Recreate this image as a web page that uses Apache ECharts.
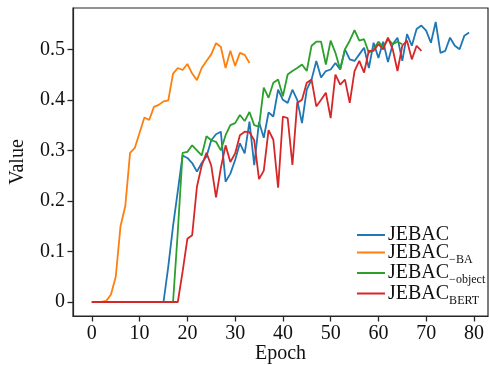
<!DOCTYPE html>
<html>
<head>
<meta charset="utf-8">
<script src="https://cdn.jsdelivr.net/npm/echarts@6/dist/echarts.min.js"></script>
<style>
  html, body { margin: 0; padding: 0; background: #fff; }
  #chart { width: 489px; height: 365px; }
</style>
</head>
<body>
<div id="chart"></div>
<script>
// values per epoch, index = epoch
const jebac = [
  0, 0, 0, 0, 0, 0, 0, 0, 0, 0, 0, 0, 0, 0, 0,
  0, 0.07, 0.15, 0.22, 0.29, 0.285, 0.275, 0.258, 0.275, 0.288,
  0.32, 0.332, 0.337, 0.238, 0.254, 0.281, 0.314, 0.294, 0.357, 0.271,
  0.356, 0.325, 0.375, 0.367, 0.42, 0.4, 0.394, 0.42, 0.4, 0.354,
  0.42, 0.44, 0.477, 0.444, 0.457, 0.46, 0.473, 0.46, 0.5, 0.48,
  0.477, 0.49, 0.503, 0.463, 0.513, 0.483, 0.515, 0.475, 0.51, 0.523,
  0.477, 0.53, 0.507, 0.54, 0.547, 0.537, 0.513, 0.554, 0.493, 0.497,
  0.523, 0.507, 0.5, 0.527, 0.533
];
const jebacBA = [
  0, 0, 0, 0.002, 0.015, 0.05, 0.15, 0.19, 0.295, 0.305,
  0.335, 0.365, 0.36, 0.386, 0.39, 0.397, 0.399, 0.452, 0.463, 0.459,
  0.471, 0.452, 0.439, 0.463, 0.477, 0.49, 0.512, 0.505, 0.463, 0.497,
  0.467, 0.493, 0.489, 0.473
];
const jebacObject = [
  0, 0, 0, 0, 0, 0, 0, 0, 0, 0, 0, 0, 0, 0, 0, 0, 0,
  0, 0.14, 0.295, 0.297, 0.31, 0.3, 0.29, 0.328, 0.32, 0.317,
  0.3, 0.33, 0.35, 0.354, 0.37, 0.358, 0.376, 0.35, 0.347, 0.424,
  0.404, 0.434, 0.44, 0.407, 0.45, 0.457, 0.463, 0.47, 0.457, 0.507,
  0.515, 0.515, 0.47, 0.517, 0.493, 0.46, 0.5, 0.517, 0.538, 0.517,
  0.52, 0.493, 0.5, 0.515, 0.505, 0.52, 0.51, 0.515, 0.51
];
const jebacBERT = [
  0, 0, 0, 0, 0, 0, 0, 0, 0, 0, 0, 0, 0, 0, 0, 0, 0, 0,
  0, 0.06, 0.125, 0.132, 0.228, 0.27, 0.295, 0.27, 0.207, 0.265,
  0.31, 0.277, 0.294, 0.33, 0.337, 0.336, 0.32, 0.243, 0.26, 0.34,
  0.321, 0.226, 0.367, 0.364, 0.271, 0.394, 0.4, 0.434, 0.44, 0.387,
  0.4, 0.414, 0.364, 0.45, 0.43, 0.44, 0.394, 0.457, 0.477, 0.454,
  0.497, 0.497, 0.51, 0.5, 0.523, 0.5, 0.457, 0.507, 0.517, 0.48,
  0.507, 0.497
];

const xTicks = [0, 10, 20, 30, 40, 50, 60, 70, 80];
const yTicks = [0, 0.1, 0.2, 0.3, 0.4, 0.5];

const names = ["JEBAC", "JEBAC−BA", "JEBAC−object", "JEBACBERT"];
const colors = ["#1f77b4", "#ff7f0e", "#2ca02c", "#d62728"];
const allValues = [jebac, jebacBA, jebacObject, jebacBERT];

const serif = "Liberation Serif";
const ink = "#262626";

const chart = echarts.init(document.getElementById("chart"));

chart.setOption({
  animation: false,
  grid: {
    left: 73, right: 1, top: 8, bottom: 49,
    outerBoundsMode: "none",
    containLabel: false,
    show: true, borderColor: ink, borderWidth: 1.2,
  },
  legend: {
    orient: "vertical",
    left: 357,
    top: 225,
    padding: 0,
    icon: "rect",
    itemWidth: 28,
    itemHeight: 2,
    itemGap: -5.5,
    data: names,
    formatter: (name) => {
      if (name === "JEBAC−BA") return "{a|JEBAC}{s|−BA}";
      if (name === "JEBAC−object") return "{a|JEBAC}{s|−object}";
      if (name === "JEBACBERT") return "{a|JEBAC}{s|BERT}";
      return "{a|JEBAC}";
    },
    textStyle: {
      padding: [0, 0, 0, -2],
      rich: {
        a: { fontFamily: serif, fontSize: 20, color: "#111", lineHeight: 22 },
        s: {
          fontFamily: serif, fontSize: 12, color: "#111",
          lineHeight: 8, padding: [14, 0, 0, 0],
        },
      },
    },
  },
  xAxis: {
    type: "value",
    min: -3.95,
    max: 82.95,
    name: "Epoch",
    nameLocation: "middle",
    nameGap: 28,
    nameMoveOverlap: false,
    nameTextStyle: { fontFamily: serif, fontSize: 20, color: "#111" },
    axisLine: { show: true, onZero: false, lineStyle: { color: ink, width: 1.2 } },
    splitLine: { show: false },
    axisTick: {
      show: true, inside: false, length: 5.5,
      customValues: xTicks,
      lineStyle: { color: ink, width: 1.3 },
    },
    axisLabel: {
      customValues: xTicks,
      margin: 8,
      fontFamily: serif, fontSize: 20, color: "#111",
    },
  },
  yAxis: {
    type: "value",
    min: -0.0277,
    max: 0.5817,
    name: "Value",
    nameLocation: "middle",
    nameGap: 45,
    nameMoveOverlap: false,
    nameTextStyle: { fontFamily: serif, fontSize: 20, color: "#111" },
    axisLine: { show: true, onZero: false, lineStyle: { color: ink, width: 1.2 } },
    splitLine: { show: false },
    axisTick: {
      show: true, inside: false, length: 5.5,
      customValues: yTicks,
      lineStyle: { color: ink, width: 1.3 },
    },
    axisLabel: {
      customValues: yTicks,
      margin: 8,
      fontFamily: serif, fontSize: 20, color: "#111",
      formatter: (v) => (v === 0 ? "0" : v.toFixed(1)),
    },
  },
  series: allValues.map((vals, k) => ({
    name: names[k],
    type: "line",
    symbol: "none",
    color: colors[k],
    lineStyle: { width: 1.8, color: colors[k] },
    data: vals.map((v, i) => [i, v]),
  })),
});
</script>
</body>
</html>
